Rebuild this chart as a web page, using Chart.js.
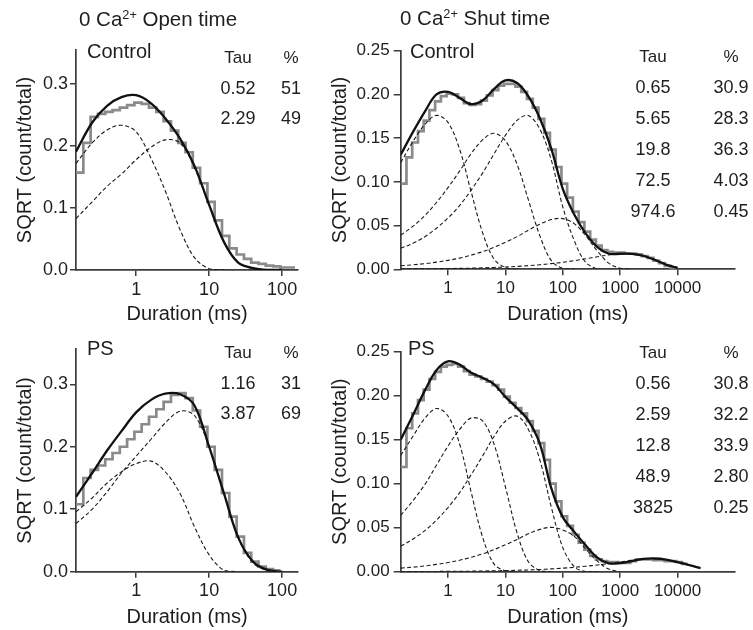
<!DOCTYPE html>
<html lang="en">
<head>
<meta charset="utf-8">
<title>0 Ca2+ open / shut time histograms</title>
<script src="https://cdn.jsdelivr.net/npm/chart.js@4.4.1/dist/chart.umd.min.js"></script>
<style>
  html, body { margin: 0; padding: 0; background: #fff; }
  #fig { position: relative; width: 753px; height: 630px; overflow: hidden;
         font-family: 'Liberation Sans', Arial, sans-serif; color: #1e1e1e; }
  #fig canvas { position: absolute; }
  .lbl { position: absolute; white-space: nowrap; line-height: 1; transform: translate(-50%, -50%); }
  .lbl.left { transform: translate(0, -50%); }
  .lbl sup { font-size: 62%; vertical-align: 0; position: relative; top: -0.55em; }
</style>
</head>
<body>
<div id="fig">
  <canvas id="cOpenCtrl" width="310" height="330" style="left:0;top:0"></canvas>
  <canvas id="cShutCtrl" width="443" height="330" style="left:310px;top:0"></canvas>
  <canvas id="cOpenPS" width="310" height="300" style="left:0;top:330px"></canvas>
  <canvas id="cShutPS" width="443" height="300" style="left:310px;top:330px"></canvas>
</div>
<script>
// ====== bins / grids / ticks ======
const binEdges = [0.15,0.189,0.238,0.3,0.377,0.475,0.597,0.752,0.947,1.19,1.5,1.89,2.38,3.0,3.77,4.75,5.97,7.52,9.47,11.9,
  15,18.9,23.8,30,37.7,47.5,59.7,75.2,94.7,119,150,189,238,300,377,475,597,752,947,1190,
  1500,1890,2380,3000,3770,4750,5970,7520,9470,11900,15000];
const gridOpen = [0.15,0.25,0.4,0.63,1,1.6,2.5,4,6.3,10,16,25,40,63,100];
const gridShut = [0.15,0.25,0.4,0.63,1,1.6,2.5,4,6.3,10,16,25,40,63,100,160,250,400,630,1000,1600,2500,4000,6300,10000,16000,25000];
const xTicksOpen = [1, 10, 100];
const xTicksShut = [1, 10, 100, 1000, 10000];
const yTicksOpen = [0, 0.1, 0.2, 0.3];
const yTicksShut = [0, 0.05, 0.1, 0.15, 0.2, 0.25];

// ====== open time, control ======
const openCtrlHist = [0.157,0.205,0.247,0.252,0.255,0.258,0.262,0.266,0.27,0.268,0.262,0.255,0.24,0.225,0.205,0.19,
  0.165,0.14,0.11,0.08,0.055,0.035,0.025,0.018,0.012,0.01,0.007,0.006,0.004,0.004];
const openCtrlFit = [0.191,0.238,0.265,0.279,0.282,0.269,0.245,0.212,0.168,0.105,0.045,0.012,0.003,0,0];
const openCtrlC1 = [0.172,0.205,0.226,0.2335,0.223,0.18,0.128,0.065,0.02,0.002,0];
const openCtrlC2 = [0.083,0.11,0.135,0.155,0.178,0.198,0.21,0.205,0.165,0.105,0.045,0.012,0.002,0];
const openCtrlTau = ['0.52', '2.29'];
const openCtrlPct = ['51', '49'];

// ====== open time, PS ======
const openPSHist = [0.108,0.15,0.163,0.17,0.18,0.19,0.2,0.212,0.224,0.236,0.248,0.26,0.272,0.283,0.286,0.278,
  0.258,0.232,0.2,0.163,0.126,0.088,0.056,0.03,0.016,0.008,0.004,0.002];
const openPSFit = [0.12,0.158,0.194,0.225,0.255,0.275,0.285,0.284,0.266,0.2,0.125,0.055,0.016,0.003,0];
const openPSC1 = [0.096,0.118,0.142,0.16,0.173,0.177,0.16,0.125,0.072,0.027,0.002,0];
const openPSC2 = [0.077,0.1,0.128,0.158,0.185,0.212,0.238,0.257,0.25,0.2,0.125,0.055,0.014,0.002,0];
const openPSTau = ['1.16', '3.87'];
const openPSPct = ['31', '69'];

// ====== shut time, control ======
const shutCtrlHist = [0.098,0.128,0.145,0.158,0.17,0.182,0.192,0.198,0.201,0.2,0.196,0.19,0.188,0.189,0.193,0.199,
  0.205,0.21,0.212,0.212,0.209,0.203,0.195,0.185,0.172,0.156,0.137,0.117,0.098,0.082,0.066,0.054,
  0.043,0.034,0.027,0.022,0.02,0.019,0.019,0.018,0.018,0.017,0.015,0.013,0.01,0.007,0.004,0.002];
const shutCtrlFit = [0.131,0.158,0.181,0.2,0.203,0.196,0.189,0.193,0.206,0.216,0.213,0.198,0.1725,0.138,0.092,
  0.062,0.041,0.0254,0.0178,0.0178,0.0177,0.0155,0.0109,0.0054,0.0016];
const shutCtrlC1 = [0.122,0.147,0.166,0.176,0.168,0.137,0.09,0.042,0.012,0.002,0];
const shutCtrlC2 = [0.039,0.0496,0.0618,0.0764,0.0934,0.1125,0.1318,0.148,0.1556,0.147,0.12,0.08,0.038,0.01,0.001,0];
const shutCtrlC3 = [0.024,0.03,0.0375,0.047,0.0587,0.073,0.09,0.11,0.1317,0.1531,0.1703,0.1759,0.16,0.125,0.0713,0.032,0.008,0];
const shutCtrlC4 = [0.004,0.0052,0.0065,0.0082,0.0102,0.0128,0.0161,0.0201,0.025,0.0308,0.0374,0.0447,0.0517,0.0569,
  0.058,0.052,0.0385,0.021,0.007,0.0012,0];
const shutCtrlC5 = [0.0003,0.0004,0.0005,0.0007,0.0008,0.0011,0.0013,0.0017,0.0021,0.0026,0.0033,0.0042,0.0052,0.0065,
  0.008,0.0099,0.012,0.0143,0.0164,0.0178,0.0177,0.0155,0.0109,0.0054,0.0016];
const shutCtrlTau = ['0.65', '5.65', '19.8', '72.5', '974.6'];
const shutCtrlPct = ['30.9', '28.3', '36.3', '4.03', '0.45'];

// ====== shut time, PS ======
const shutPSHist = [0.119,0.163,0.18,0.195,0.207,0.219,0.227,0.233,0.235,0.236,0.233,0.228,0.224,0.222,0.219,0.216,
  0.212,0.207,0.199,0.192,0.186,0.18,0.171,0.16,0.146,0.127,0.1,0.08,0.063,0.052,0.042,0.033,
  0.025,0.018,0.014,0.012,0.011,0.011,0.01,0.01,0.012,0.014,0.014,0.014,0.013,0.013,0.012,0.012,0.011,0.009];
const shutPSFit = [0.15,0.179,0.2066,0.229,0.239,0.2353,0.2263,0.2204,0.2131,0.1987,0.1858,0.172,0.145,0.095,0.062,
  0.045,0.03,0.016,0.0095,0.0098,0.012,0.0145,0.015,0.0138,0.0108,0.0075,0.004];
const shutPSC1 = [0.132,0.1548,0.1747,0.1854,0.177,0.1448,0.0919,0.0395,0.0089,0.0009,0];
const shutPSC2 = [0.064,0.0814,0.0996,0.121,0.1428,0.1617,0.1745,0.1714,0.1456,0.0965,0.0439,0.0116,0.0012,0];
const shutPSC3 = [0.029,0.0375,0.0469,0.0586,0.0729,0.0899,0.1097,0.1313,0.1533,0.171,0.1768,0.162,0.1266,0.0735,
  0.0274,0.0053,0.0003,0];
const shutPSC4 = [0.0041,0.0052,0.0066,0.0083,0.0104,0.013,0.0163,0.0202,0.025,0.0306,0.0367,0.043,0.0481,0.0504,
  0.0474,0.04,0.026,0.012,0.003,0];
const shutPSC5 = [0.0002,0.0002,0.0003,0.0003,0.0004,0.0005,0.0006,0.0008,0.001,0.0013,0.0016,0.002,0.0025,0.0032,
  0.004,0.005,0.0062,0.0076,0.0093,0.0111,0.013,0.0145,0.015,0.0138,0.0108,0.0075,0.004];
const shutPSTau = ['0.56', '2.59', '12.8', '48.9', '3825'];
const shutPSPct = ['30.8', '32.2', '33.9', '2.80', '0.25'];

// ====== helpers ======
const FONT = "'Liberation Sans', Arial, sans-serif";
const AXIS = '#3c3c3c';
Chart.defaults.font.family = FONT;
Chart.defaults.color = '#1e1e1e';

const curve = (grid, ys) => ys.map((y, i) => ({ x: grid[i], y }));
const steps = (vals) => vals.map((v, i) => ({ x: binEdges[i], y: v }))
  .concat([{ x: binEdges[vals.length], y: vals[vals.length - 1] }]);

function panel(id, p) {
  const datasets = [
    { data: curve(p.grid, p.fit), borderColor: '#111', borderWidth: 2.3, tension: 0.35 }
  ];
  p.comps.forEach(c => datasets.push({
    data: curve(p.grid, c), borderColor: '#1a1a1a', borderWidth: 1.1, borderDash: [4, 2.5], tension: 0.35
  }));
  datasets.push({ data: steps(p.hist), borderColor: '#8a8a8a', borderWidth: 2.7, stepped: true });

  new Chart(document.getElementById(id), {
    type: 'line',
    data: { datasets },
    options: {
      responsive: false,
      animation: false,
      events: [],
      layout: { padding: p.pad },
      elements: { point: { radius: 0 } },
      plugins: { legend: { display: false }, tooltip: { enabled: false } },
      scales: {
        x: {
          type: 'logarithmic',
          min: p.xMin, max: p.xMax,
          afterFit: s => { s.height = p.xh; },
          afterBuildTicks: s => { s.ticks = p.xTicks.map(v => ({ value: v })); },
          ticks: { callback: v => String(v), font: { size: p.tickSize }, padding: 3, maxRotation: 0, autoSkip: false },
          grid: { drawOnChartArea: false, tickLength: 6, color: AXIS, lineWidth: 1.5 },
          border: { color: AXIS, width: 1.7 },
          title: { display: true, text: 'Duration (ms)', font: { size: 20 }, padding: { top: 0, bottom: p.xtPad } }
        },
        y: {
          min: 0, max: p.yMax,
          afterFit: s => { s.width = p.yw; },
          afterBuildTicks: s => { s.ticks = p.yTicks.map(v => ({ value: v })); },
          ticks: { callback: v => v.toFixed(p.yDec), font: { size: p.tickSize }, padding: p.yPad },
          grid: { drawOnChartArea: false, tickLength: p.yTick, color: AXIS, lineWidth: 1.5 },
          border: { color: AXIS, width: 1.7 },
          title: { display: true, text: 'SQRT (count/total)', font: { size: 20 }, padding: { top: p.ytPad, bottom: 0 } }
        }
      }
    }
  });
}

// ====== render ======
const openBase = { xMin: 0.15, xMax: 165, xTicks: xTicksOpen, yTicks: yTicksOpen, yDec: 1,
  yw: 76, tickSize: 18, yPad: 2, yTick: 6, ytPad: 13, grid: gridOpen };
const shutBase = { xMin: 0.15, xMax: 100000, xTicks: xTicksShut, yTicks: yTicksShut, yDec: 2,
  yw: 90.7, tickSize: 17, yPad: 4, yTick: 7, ytPad: 18, grid: gridShut };

panel('cOpenCtrl', Object.assign({}, openBase, {
  pad: { top: 50, right: 12, left: 0, bottom: 0 }, xh: 60, xtPad: 4, yMax: 0.355,
  hist: openCtrlHist, fit: openCtrlFit, comps: [openCtrlC1, openCtrlC2]
}));
panel('cOpenPS', Object.assign({}, openBase, {
  pad: { top: 19.3, right: 12, left: 0, bottom: 0 }, xh: 58.3, xtPad: 1, yMax: 0.356,
  hist: openPSHist, fit: openPSFit, comps: [openPSC1, openPSC2]
}));
panel('cShutCtrl', Object.assign({}, shutBase, {
  pad: { top: 50.7, right: 18, left: 0, bottom: 0 }, xh: 60.7, xtPad: 4, yMax: 0.25,
  hist: shutCtrlHist, fit: shutCtrlFit, comps: [shutCtrlC1, shutCtrlC2, shutCtrlC3, shutCtrlC4, shutCtrlC5]
}));
panel('cShutPS', Object.assign({}, shutBase, {
  pad: { top: 21.7, right: 18, left: 0, bottom: 0 }, xh: 58.3, xtPad: 1, yMax: 0.25,
  hist: shutPSHist, fit: shutPSFit, comps: [shutPSC1, shutPSC2, shutPSC3, shutPSC4, shutPSC5]
}));

// ====== text overlays ======
const fig = document.getElementById('fig');
function addText(html, x, y, size, left) {
  const el = document.createElement('div');
  el.className = left ? 'lbl left' : 'lbl';
  el.style.left = x + 'px';
  el.style.top = y + 'px';
  el.style.fontSize = size + 'px';
  el.innerHTML = html;
  fig.appendChild(el);
}
function table(tau, pct, tauX, pctX, headY, step) {
  addText('Tau', tauX, headY, 17);
  addText('%', pctX, headY, 17);
  tau.forEach((t, i) => {
    addText(t, tauX, headY + step * (i + 1), 18);
    addText(pct[i], pctX, headY + step * (i + 1), 18);
  });
}

addText('0 Ca<sup>2+</sup> Open time', 79, 19, 20.5, true);
addText('0 Ca<sup>2+</sup> Shut time', 400, 18, 20.5, true);
addText('Control', 87, 51, 20, true);
addText('Control', 410, 51, 20, true);
addText('PS', 87, 348, 20, true);
addText('PS', 408, 348, 20, true);

table(openCtrlTau, openCtrlPct, 238, 291, 57, 30.5);
table(openPSTau, openPSPct, 238, 291, 352, 30.5);
table(shutCtrlTau, shutCtrlPct, 653, 731, 56, 31);
table(shutPSTau, shutPSPct, 653, 731, 352, 31);
</script>
</body>
</html>
